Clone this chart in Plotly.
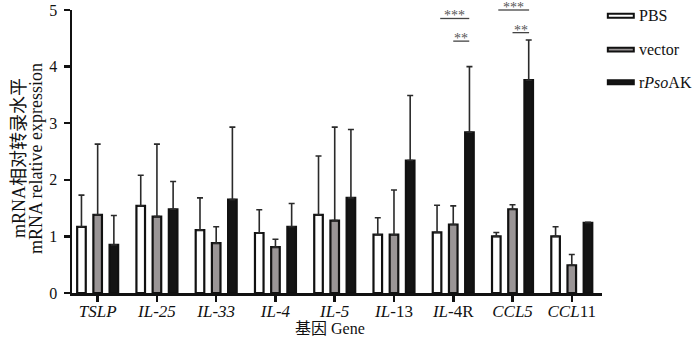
import plotly.graph_objects as go

genes = ["<i>TSLP</i>", "<i>IL-25</i>", "<i>IL-33</i>", "<i>IL-4</i>", "<i>IL-5</i>",
         "<i>IL</i>-13", "<i>IL</i>-4R", "<i>CCL5</i>", "<i>CCL</i>11"]
groups = ["PBS", "vector", "r<i>Pso</i>AK"]

pbs_mean = [1.17, 1.54, 1.11, 1.06, 1.38, 1.03, 1.07, 1.00, 1.00]
pbs_sd = [0.56, 0.54, 0.57, 0.41, 1.04, 0.30, 0.48, 0.07, 0.17]
vec_mean = [1.38, 1.35, 0.88, 0.81, 1.28, 1.03, 1.21, 1.48, 0.49]
vec_sd = [1.25, 1.28, 0.29, 0.14, 1.65, 0.79, 0.33, 0.08, 0.19]
ak_mean = [0.85, 1.48, 1.65, 1.17, 1.68, 2.34, 2.84, 3.76, 1.24]
ak_sd = [0.52, 0.49, 1.28, 0.41, 1.21, 1.15, 1.16, 0.71, 0.01]

fills = ["#ffffff", "#9a9596", "#141414"]
y_ticks = [0, 1, 2, 3, 4, 5]
YMAX = 5

# significance: (category index, x-from offset, x-to offset, y level, label)
sig_cat = [6, 6, 7, 7]
sig_x0 = [-0.22, 0.0, -0.24, 0.0]
sig_x1 = [0.27, 0.27, 0.28, 0.28]
sig_y = [4.85, 4.45, 5.0, 4.6]
sig_lab = ["***", "**", "***", "**"]

x = list(range(len(genes)))
fig = go.Figure()
for name, m, s, c in zip(groups, [pbs_mean, vec_mean, ak_mean], [pbs_sd, vec_sd, ak_sd], fills):
    fig.add_trace(go.Bar(
        x=x, y=m, name=name,
        marker=dict(color=c, line=dict(color="#111111", width=2.2)),
        error_y=dict(type="data", array=s, arrayminus=[0] * len(s), symmetric=False,
                     color="#2a2a2a", thickness=1.6, width=3),
        showlegend=False, hoverinfo="skip",
    ))

shapes = []
annotations = []
for ci, a, b, yv, lab in zip(sig_cat, sig_x0, sig_x1, sig_y, sig_lab):
    shapes.append(dict(type="line", xref="x", yref="paper", x0=ci + a, x1=ci + b,
                       y0=yv / YMAX, y1=yv / YMAX, line=dict(color="#444444", width=1.3)))
    annotations.append(dict(text=lab, xref="x", yref="paper", x=ci + (a + b) / 2, y=yv / YMAX,
                            xanchor="center", yanchor="middle", showarrow=False, yshift=2.5,
                            font=dict(family="Liberation Serif", size=14, color="#555555")))

# legend drawn manually
leg_y = [0.980, 0.860, 0.745]
for name, c, yy in zip(groups, fills, leg_y):
    shapes.append(dict(type="rect", xref="paper", yref="paper", x0=1.011, x1=1.060,
                       y0=yy - 0.007, y1=yy + 0.007, fillcolor=c,
                       line=dict(color="#111111", width=2)))
    annotations.append(dict(text=name, xref="paper", yref="paper", x=1.066, y=yy,
                            xanchor="left", yanchor="middle", showarrow=False,
                            font=dict(family="Liberation Serif", size=16, color="#111111")))

# axis titles
annotations.append(dict(text="基因 Gene", xref="paper", yref="paper", x=0.487, y=-0.124,
                        xanchor="center", yanchor="middle", showarrow=False, borderpad=0,
                        font=dict(family="Liberation Serif, Noto Sans CJK SC", size=16, color="#111111")))
annotations.append(dict(text="mRNA相对转录水平", xref="paper", yref="paper",
                        x=-0.100, y=0.477, xanchor="center", yanchor="middle", textangle=-90,
                        showarrow=False,
                        font=dict(family="Liberation Serif, Noto Sans CJK SC", size=18, color="#111111")))
annotations.append(dict(text="mRNA relative expression", xref="paper", yref="paper",
                        x=-0.068, y=0.477, xanchor="center", yanchor="middle", textangle=-90,
                        showarrow=False,
                        font=dict(family="Liberation Serif", size=18, color="#111111")))

fig.update_layout(
    width=700, height=337,
    margin=dict(l=72, r=98, t=10, b=44),
    paper_bgcolor="white", plot_bgcolor="white",
    barmode="group", bargap=0.18, bargroupgap=0.47,
    font=dict(family="Liberation Serif", size=15, color="#111111"),
    shapes=shapes, annotations=annotations,
    xaxis=dict(range=[-0.433, 8.51], tickvals=x, ticktext=genes, showline=True, automargin=False,
               linecolor="#111111", linewidth=2.5, ticks="outside", ticklen=6, tickwidth=2.5,
               tickcolor="#111111", showgrid=False, zeroline=False, ticklabelstandoff=-5,
               tickfont=dict(family="Liberation Serif", size=17)),
    yaxis=dict(range=[0, YMAX], tickvals=y_ticks, showline=True, linecolor="#111111", automargin=False,
               linewidth=2.5, ticks="outside", ticklen=6, tickwidth=2.5, tickcolor="#111111",
               showgrid=False, zeroline=False, ticklabelstandoff=3,
               tickfont=dict(family="Liberation Serif", size=16)),
)

fig.write_html("out.html", config={"displayModeBar": False, "staticPlot": True},
               post_script="document.body.style.margin='0';document.body.style.overflow='hidden';")
